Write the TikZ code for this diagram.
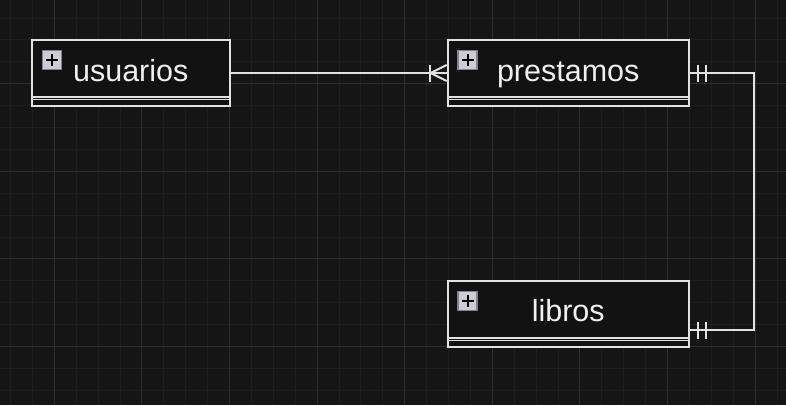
\documentclass[tikz,border=0pt]{standalone}
\usepackage{fontspec}
\setmainfont{Liberation Sans}
\usepackage{xcolor}
\definecolor{bgDark}{RGB}{21, 21, 21}
\definecolor{boxFill}{RGB}{18, 18, 18}
\definecolor{lineGray}{RGB}{226, 226, 226}
\definecolor{gridMinor}{RGB}{30, 30, 30}
\definecolor{gridMajor}{RGB}{46, 46, 46}
\definecolor{iconFill}{RGB}{204, 204, 210}
\definecolor{iconEdge}{RGB}{128, 130, 146}
\usepackage{tikz}
\usetikzlibrary{positioning, calc}

\begin{document}
\begin{tikzpicture}[x=1pt, y=-1pt,
  entity/.style={rectangle, draw=lineGray, fill=boxFill, line width=2pt,
                 minimum height=66pt, inner sep=0pt},
  header/.style={rectangle, draw=lineGray, line width=2pt, inner sep=0pt,
                 minimum height=57pt, text=white!94!black,
                 font=\fontsize{30.5}{36}\selectfont, text height=25pt, text depth=0pt},
  icon/.style={rectangle, draw=iconEdge, fill=iconFill, line width=1.5pt,
               minimum size=19pt, inner sep=0pt,
               path picture={\draw[black, line width=1.8pt]
                 ([xshift=-6pt]path picture bounding box.center) -- ([xshift=6pt]path picture bounding box.center)
                 ([yshift=-6pt]path picture bounding box.center) -- ([yshift=6pt]path picture bounding box.center);}},
  rel/.style={draw=lineGray, line width=2pt},
  minorline/.style={draw=gridMinor, line width=1pt},
  majorline/.style={draw=gridMajor, line width=1pt}]

  \useasboundingbox (0,0) rectangle (786,405);

  % ── Canvas grid ──────────────────────────────────────────────────
  \fill[bgDark] (0,0) rectangle (786,405);
  \foreach \i in {-2,...,33} \draw[minorline] ({54.3+21.9*\i},0) -- ({54.3+21.9*\i},405);
  \foreach \j in {-7,...,10} \draw[minorline] (0,{171.3+21.9*\j}) -- (786,{171.3+21.9*\j});
  \foreach \i in {0,4,...,32} \draw[majorline] ({54.3+21.9*\i},0) -- ({54.3+21.9*\i},405);
  \foreach \j in {-4,0,4,8} \draw[majorline] (0,{171.3+21.9*\j}) -- (786,{171.3+21.9*\j});

  % ── Entity : usuarios ────────────────────────────────────────────
  \node[entity, minimum width=197.5pt] (usuarios) at (130.75, 73) {};
  \node[header, minimum width=197.5pt, below=0pt of usuarios.north] (usuariosHead) {usuarios};
  \draw[lineGray, line width=1.5pt] ([yshift=-1.6pt]usuariosHead.south west) -- ([yshift=-1.6pt]usuariosHead.south east);
  \node[icon] (usuariosIcon) at ([xshift=21pt, yshift=-21pt]usuarios.north west) {};

  % ── Entity : prestamos ───────────────────────────────────────────
  \node[entity, minimum width=241pt] (prestamos) at (568.2, 73) {};
  \node[header, minimum width=241pt, below=0pt of prestamos.north] (prestamosHead) {prestamos};
  \draw[lineGray, line width=1.5pt] ([yshift=-1.6pt]prestamosHead.south west) -- ([yshift=-1.6pt]prestamosHead.south east);
  \node[icon] (prestamosIcon) at ([xshift=21pt, yshift=-21pt]prestamos.north west) {};

  % ── Entity : libros ──────────────────────────────────────────────
  \node[entity, minimum width=241pt] (libros) at (568.2, 313.8) {};
  \node[header, minimum width=241pt, below=0pt of libros.north] (librosHead) {libros};
  \draw[lineGray, line width=1.5pt] ([yshift=-1.6pt]librosHead.south west) -- ([yshift=-1.6pt]librosHead.south east);
  \node[icon] (librosIcon) at ([xshift=21pt, yshift=-21pt]libros.north west) {};

  % ── usuarios  1 ── N  prestamos ──────────────────────────────────
  \draw[rel] (usuarios.east) -- (prestamos.west);
  \draw[rel] ([xshift=-17pt, yshift=8.5pt]prestamos.west) -- ([xshift=-17pt, yshift=-8.5pt]prestamos.west);
  \draw[rel] ([yshift=8pt]prestamos.west) -- ([xshift=-16pt]prestamos.west) -- ([yshift=-8pt]prestamos.west);

  % ── prestamos  1 ── 1  libros ────────────────────────────────────
  \coordinate (elbow) at ([xshift=64pt]prestamos.east);
  \coordinate (librosIn) at ([yshift=-16.2pt]libros.east);
  \draw[rel] (prestamos.east) -- (elbow) |- (librosIn);
  \foreach \d in {8,16} {
    \draw[rel] ([xshift=\d pt, yshift=8.5pt]prestamos.east) -- ([xshift=\d pt, yshift=-8.5pt]prestamos.east);
    \draw[rel] ([xshift=\d pt, yshift=8.5pt]librosIn) -- ([xshift=\d pt, yshift=-8.5pt]librosIn);
  }

\end{tikzpicture}
\end{document}
